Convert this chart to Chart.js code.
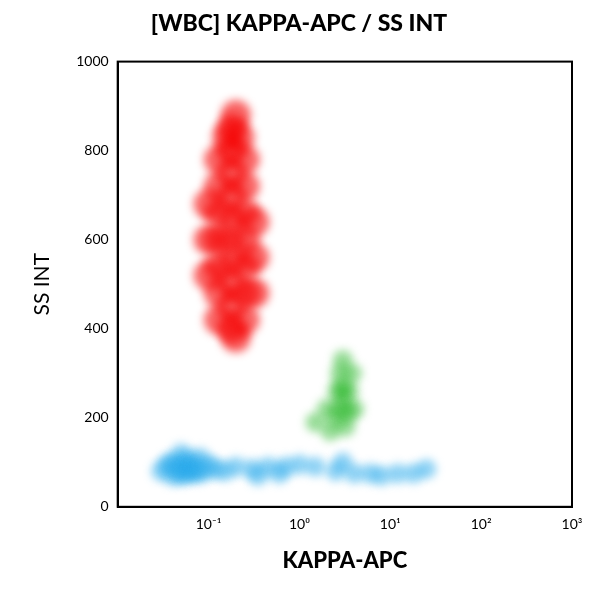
<!DOCTYPE html>
<html><head><meta charset="utf-8">
<script src="https://cdn.jsdelivr.net/npm/chart.js@4"></script>
<style>html,body{margin:0;background:#fff}#w{width:600px;height:600px}</style>
</head><body><div id="w"><canvas id="c"></canvas></div>
<script>
const xTicks=[0.01,0.1,1,10,100,1000];
const xTickLabels=['','10⁻¹','10⁰','10¹','10²','10³'];
const yTicks=[0,200,400,600,800,1000];
const redCells=[[0.18,400],[0.18,450],[0.18,500],[0.18,550],[0.18,600],[0.18,650],[0.18,700],[0.18,750],[0.18,800],[0.18,850],
[0.13,420],[0.13,480],[0.13,540],[0.13,600],[0.13,660],[0.13,720],[0.13,780],
[0.25,420],[0.25,480],[0.25,540],[0.25,600],[0.25,660],[0.25,720],[0.25,780],
[0.1,520],[0.1,600],[0.1,680],[0.32,480],[0.32,560],[0.32,640],[0.2,380],[0.2,880],[0.16,830],[0.22,830]];
const greenCells=[[3,240],[2.5,200],[3.5,260],[2.8,300],[3.2,180],[2,220],[4,220],[2.6,260],[3,330],[1.5,190],[2.2,170],[3.8,300],[3.4,210],[3,270],[2.8,220]];
const blueCells=[[0.03,80],[0.04,70],[0.04,100],[0.05,85],[0.06,75],[0.06,105],[0.07,90],[0.05,120],[0.09,80],[0.12,85],[0.15,80],[0.2,90],[0.3,85],[0.45,90],[0.7,90],[1,95],[1.5,90],[2.5,80],[4,75],[6,75],[8,70],[12,75],[18,75],[25,85],[0.35,70],[0.6,75],[3,100],[0.08,110],
[0.045,90],[0.055,95],[0.065,85],[0.05,70],[0.035,95],[0.075,75],[0.1,95]];
const toPts=a=>a.map(p=>({x:p[0],y:p[1]}));
new Chart(document.getElementById('c'),{type:'scatter',
data:{datasets:[
{data:toPts(blueCells),backgroundColor:'rgba(40,170,235,0.5)',borderWidth:0,pointRadius:10},
{data:toPts(greenCells),backgroundColor:'rgba(30,180,30,0.45)',borderWidth:0,pointRadius:10},
{data:toPts(redCells),backgroundColor:'rgba(245,0,0,0.6)',borderWidth:0,pointRadius:15}]},
options:{responsive:true,maintainAspectRatio:false,animation:false,
layout:{padding:{top:10,right:28,left:26,bottom:22}},
plugins:{legend:{display:false},tooltip:{enabled:false},
title:{display:true,text:'[WBC] KAPPA-APC / SS INT',color:'#000',font:{family:'Lato',size:23,weight:'900'},padding:{bottom:24}}},
scales:{
x:{type:'logarithmic',min:0.01,max:1000,afterBuildTicks:a=>{a.ticks=xTicks.map(v=>({value:v}))},
ticks:{callback:(v,i)=>xTickLabels[i],color:'#000',font:{family:'Lato',size:14},maxRotation:0},
grid:{display:false,drawTicks:true,tickLength:6,color:'#000'},border:{color:'#000',width:2},
title:{display:true,text:'KAPPA-APC',color:'#000',font:{family:'Lato',size:22,weight:'900'},padding:{top:12}}},
y:{min:0,max:1000,afterBuildTicks:a=>{a.ticks=yTicks.map(v=>({value:v}))},
ticks:{callback:v=>String(v),color:'#000',font:{family:'Lato',size:14}},
grid:{display:false,tickLength:6,color:'#000'},border:{color:'#000',width:2},
title:{display:true,text:'SS INT',color:'#000',font:{family:'Lato',size:21},padding:{bottom:18}}}}},
plugins:[{id:'blur',beforeDatasetsDraw(c){c.ctx.save();c.ctx.filter='blur(4px)';},afterDatasetsDraw(c){c.ctx.restore();}},
{id:'frame',afterDraw(c){const a=c.chartArea,g=c.ctx;g.save();g.strokeStyle='#000';g.lineWidth=2;g.strokeRect(a.left,a.top,a.right-a.left,a.bottom-a.top);g.restore();}}]
});
</script></body></html>
